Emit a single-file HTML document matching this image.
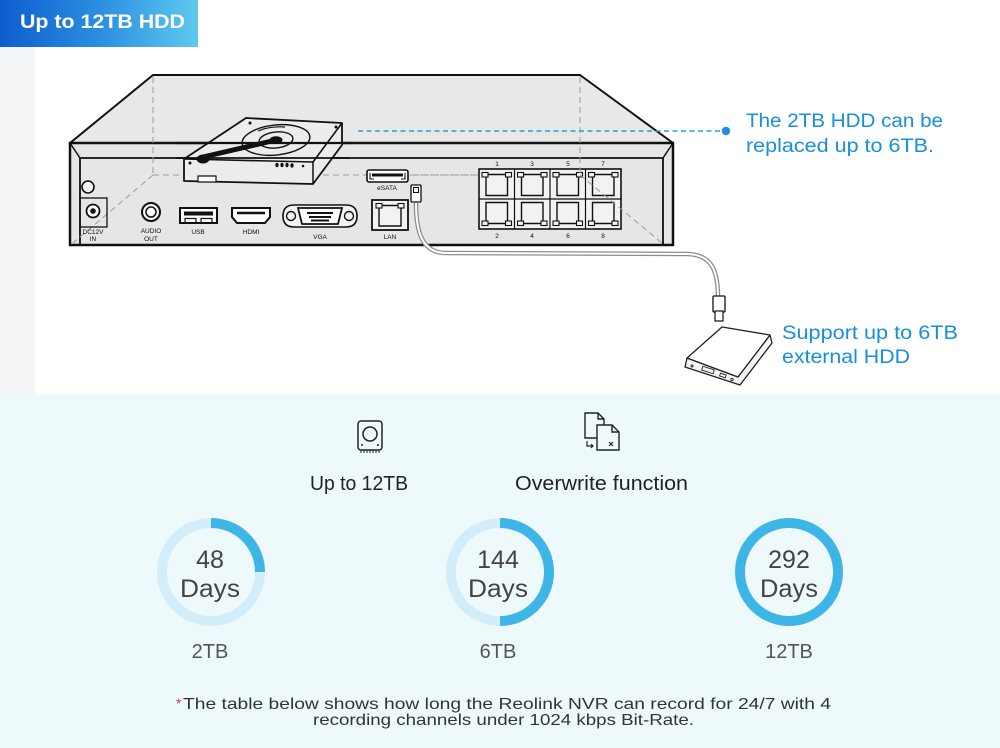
<!DOCTYPE html>
<html><head><meta charset="utf-8"><style>
html,body{margin:0;padding:0;background:#fff;}
svg{display:block;}
text{font-family:"Liberation Sans",sans-serif;}
</style></head><body>
<svg width="1000" height="748" viewBox="0 0 1000 748" xmlns="http://www.w3.org/2000/svg">
<defs>
<linearGradient id="hg" x1="0" x2="1" y1="0" y2="0">
<stop offset="0" stop-color="#0e5dce"/>
<stop offset="0.5" stop-color="#2b8ee0"/>
<stop offset="1" stop-color="#5ec9ef"/>
</linearGradient>
<g id="pt">
<rect x="3" y="3.5" width="6" height="4.5" fill="#f2f2f2" stroke="#111" stroke-width="1.1"/>
<rect x="26.5" y="3.5" width="6" height="4.5" fill="#f2f2f2" stroke="#111" stroke-width="1.1"/>
<path d="M9 5.5 H26.5 M7 8 V26.5 H28.5 V8" fill="none" stroke="#111" stroke-width="1.4"/>
</g>
</defs>

<rect width="1000" height="748" fill="#fff"/>
<rect x="0" y="47" width="35" height="348" fill="#f3f4f6"/>
<rect x="0" y="394" width="1000" height="354" fill="#eef9fc"/>
<rect x="0" y="0" width="198" height="47" fill="url(#hg)"/>
<text x="20" y="28" font-size="19" font-weight="bold" fill="#fff" textLength="165" lengthAdjust="spacingAndGlyphs">Up to 12TB HDD</text>

<!-- NVR top face -->
<polygon points="153,75 580,75 673,143 70,143" fill="#e8e8e8" stroke="#111" stroke-width="2" stroke-linejoin="round"/>
<!-- front -->
<rect x="70" y="143" width="603" height="102" fill="#e6e6e6" stroke="#111" stroke-width="2.5"/>
<polyline points="80,245 80,158 663,158 663,245" fill="none" stroke="#111" stroke-width="1.8"/>
<line x1="70" y1="143" x2="80" y2="158" stroke="#111" stroke-width="1.5"/>
<line x1="673" y1="143" x2="663" y2="158" stroke="#111" stroke-width="1.5"/>

<!-- hidden dashed edges -->
<g stroke="#9a9a9a" stroke-width="1" stroke-dasharray="6 4" fill="none">
<line x1="153" y1="77" x2="153" y2="175"/>
<line x1="153" y1="175" x2="580" y2="175"/>
<line x1="153" y1="175" x2="73" y2="243"/>
</g>

<!-- Internal HDD -->
<g stroke="#111" stroke-linejoin="round">
<polygon points="246,118 342,123 342,145 313,184 184,181 184,159" fill="#ececec" stroke-width="1.8"/>
<polyline points="184,159 313,162 342,123" fill="none" stroke-width="1.6"/>
<line x1="313" y1="162" x2="313" y2="184" stroke-width="1.5"/>
<ellipse cx="276" cy="140" rx="34" ry="15" fill="none" stroke-width="1.4" transform="rotate(-6 276 140)"/>
<ellipse cx="276" cy="140" rx="17" ry="8" fill="none" stroke-width="1.4" transform="rotate(-6 276 140)"/>
<ellipse cx="276" cy="140" rx="6" ry="3.2" fill="#111"/>
<path d="M258 131 Q270 126 285 127" fill="none" stroke-width="1.2"/>
<line x1="272" y1="141" x2="203" y2="157" stroke-width="5" stroke-linecap="round"/>
<ellipse cx="203" cy="159" rx="6" ry="4" fill="#111"/>
<rect x="198" y="176" width="18" height="6" fill="#fff" stroke-width="1.2"/>
<circle cx="250" cy="123" r="1.5" fill="#111" stroke="none"/>
<circle cx="336" cy="127" r="1.5" fill="#111" stroke="none"/>
<circle cx="190" cy="163" r="1.5" fill="#111" stroke="none"/>
<circle cx="303" cy="166" r="1.3" fill="#111" stroke="none"/>
<g fill="#111" stroke="none">
<ellipse cx="277" cy="165" rx="1.6" ry="2.2"/><ellipse cx="282" cy="165" rx="1.6" ry="2.2"/>
<ellipse cx="287" cy="165" rx="1.6" ry="2.2"/><ellipse cx="292" cy="165.5" rx="1.6" ry="2.2"/>
</g>
</g>
<!-- front top lines across HDD -->
<line x1="176" y1="143" x2="350" y2="143" stroke="#111" stroke-width="2.2"/>
<line x1="176" y1="158" x2="350" y2="158" stroke="#111" stroke-width="1.8"/>

<!-- Ports -->
<g stroke="#111" fill="none">
<circle cx="88" cy="187" r="6" stroke-width="1.6" fill="#f2f2f2"/>
<rect x="80" y="198" width="27" height="29" stroke-width="1.3"/>
<circle cx="93" cy="211" r="6.5" stroke-width="1.8" fill="#fff"/>
<circle cx="93" cy="211" r="2.8" fill="#111" stroke="none"/>
<circle cx="151" cy="212" r="9" stroke-width="2" fill="#f2f2f2"/>
<circle cx="151" cy="212" r="5" stroke-width="1.5" fill="#fff"/>
<rect x="180" y="208" width="37" height="15" stroke-width="2" fill="#fff"/>
<rect x="184" y="211.5" width="29" height="4" fill="#111" stroke="none"/>
<path d="M185 223 V218.5 H196 V223 M201 223 V218.5 H212 V223" stroke-width="1.2"/>
<path d="M232 208 H270 V217 L265 223 H237 L232 217 Z" stroke-width="2" fill="#fff"/>
<path d="M237 213 H265" stroke-width="2.6"/>
<path d="M283 216 Q283 205 294 205 H346 Q357 205 357 216 Q357 227 346 227 H294 Q283 227 283 216 Z" stroke-width="1.6" fill="#f2f2f2"/>
<path d="M298 208 H342 L338 224 H302 Z" stroke-width="1.8" fill="#fff"/>
<circle cx="291" cy="216" r="4.5" stroke-width="1.4"/>
<circle cx="349" cy="216" r="4.5" stroke-width="1.4"/>
<g fill="#111" stroke="none">
<rect x="307" y="212" width="26" height="2"/><rect x="309" y="216" width="22" height="2"/><rect x="311" y="219.5" width="18" height="2"/>
</g>
<rect x="372" y="200" width="36" height="30" stroke-width="1.8" fill="#f2f2f2"/>
<rect x="376" y="203.5" width="6" height="4.5" stroke-width="1.1"/>
<rect x="398" y="203.5" width="6" height="4.5" stroke-width="1.1"/>
<path d="M382 205.5 H398 M379 208 V226 H401 V208" stroke-width="1.4"/>
<rect x="367" y="170" width="41" height="12" rx="2" stroke-width="1.6" fill="#fff"/>
<rect x="372" y="173.5" width="31" height="3" fill="#111" stroke="none"/>
<path d="M370 173 V179 H374 M405 173 V179 H401" stroke-width="1.1"/>
</g>
<g font-size="6.5" fill="#111" text-anchor="middle">
<text x="93" y="234">DC12V</text><text x="93" y="241">IN</text>
<text x="151" y="233">AUDIO</text><text x="151" y="241">OUT</text>
<text x="198" y="234">USB</text>
<text x="251" y="234">HDMI</text>
<text x="320" y="239">VGA</text>
<text x="390" y="239">LAN</text>
<text x="387" y="190">eSATA</text>
</g>

<!-- Ethernet block -->
<rect x="479" y="169" width="142" height="60" fill="#f2f2f2" stroke="#111" stroke-width="1.6"/>
<g stroke="#111" stroke-width="1.2">
<line x1="514.5" y1="169" x2="514.5" y2="229"/><line x1="550" y1="169" x2="550" y2="229"/><line x1="585.5" y1="169" x2="585.5" y2="229"/>
<line x1="479" y1="199" x2="621" y2="199"/>
</g>
<use href="#pt" transform="translate(479,169)"/>
<use href="#pt" transform="translate(514.5,169)"/>
<use href="#pt" transform="translate(550,169)"/>
<use href="#pt" transform="translate(585.5,169)"/>
<use href="#pt" transform="translate(479,229) scale(1,-1)"/>
<use href="#pt" transform="translate(514.5,229) scale(1,-1)"/>
<use href="#pt" transform="translate(550,229) scale(1,-1)"/>
<use href="#pt" transform="translate(585.5,229) scale(1,-1)"/>
<g font-size="6.5" fill="#111" text-anchor="middle">
<text x="497" y="166">1</text><text x="532" y="166">3</text><text x="568" y="166">5</text><text x="603" y="166">7</text>
<text x="497" y="238">2</text><text x="532" y="238">4</text><text x="568" y="238">6</text><text x="603" y="238">8</text>
</g>
<g stroke="#9a9a9a" stroke-width="1" stroke-dasharray="6 4" fill="none">
<line x1="580" y1="77" x2="580" y2="175"/>
<line x1="410" y1="175" x2="479" y2="175"/>
<line x1="580" y1="175" x2="662" y2="243"/>
</g>

<!-- cable -->
<path d="M416 203 C416 232 422 253 446 253 L688 254 C710 255 718 268 718 297" fill="none" stroke="#8c8c8c" stroke-width="4.5"/>
<path d="M416 203 C416 232 422 253 446 253 L688 254 C710 255 718 268 718 297" fill="none" stroke="#fff" stroke-width="2"/>
<rect x="411" y="185" width="10" height="17" rx="1" fill="#fff" stroke="#111" stroke-width="1.3"/>
<rect x="413.5" y="187.5" width="5" height="5" fill="none" stroke="#111" stroke-width="1"/>
<rect x="713" y="296" width="12" height="16" rx="1" fill="#fff" stroke="#111" stroke-width="1.3"/>
<rect x="715" y="311" width="8" height="10" fill="#fff" stroke="#111" stroke-width="1.2"/>

<!-- blue dashed callout -->
<line x1="358" y1="131" x2="722" y2="131" stroke="#2a9ed8" stroke-width="1.6" stroke-dasharray="5 3.5"/>
<circle cx="726" cy="131" r="4.2" fill="#1a8fdc"/>

<!-- external HDD -->
<g stroke="#222" stroke-width="1.3" stroke-linejoin="round">
<polygon points="687,358 685,367 740,385 772,343 770,335 738,377" fill="#f4f4f4"/>
<polygon points="722,327 770,335 738,377 687,358" fill="#fff"/>
<g stroke-width="0.9" fill="none">
<circle cx="692" cy="366" r="1"/>
<rect x="702" y="368" width="12" height="4" transform="rotate(18 708 370)"/>
<rect x="720" y="374" width="6" height="3" transform="rotate(18 723 375)"/>
<circle cx="732" cy="379.5" r="1.2"/>
</g>
</g>

<!-- right texts -->
<g font-size="19" fill="#1590dc">
<text x="746" y="127" textLength="197" lengthAdjust="spacingAndGlyphs">The 2TB HDD can be</text>
<text x="746" y="152" textLength="188" lengthAdjust="spacingAndGlyphs">replaced up to 6TB.</text>
<text x="782" y="339" textLength="176" lengthAdjust="spacingAndGlyphs">Support up to 6TB</text>
<text x="782" y="363" textLength="128" lengthAdjust="spacingAndGlyphs">external HDD</text>
</g>

<!-- bottom icons -->
<g stroke="#222" fill="none" stroke-width="1.5">
<rect x="358" y="421" width="24" height="29" rx="3"/>
<circle cx="370" cy="434" r="7"/>
<path d="M361 450 V453 M364 450 V453 M367 450 V453 M370 450 V453 M373 450 V453 M376 450 V453 M379 450 V453" stroke-width="1"/>
<path d="M585 413 H598 L604 419 V438 H585 Z M598 413 V419 H604" stroke-width="1.4"/>
<path d="M597 425 H612 L619 432 V450 H597 Z M612 425 V432 H619" stroke-width="1.4" fill="#eef9fc"/>
<path d="M587 441 V446 H593 M591 444 L593 446 L591 448" stroke-width="1.2"/>
<path d="M609 442 L613 446 M613 442 L609 446" stroke-width="1.2"/>
</g>
<circle cx="362" cy="445" r="1" fill="#222"/><circle cx="378" cy="445" r="1" fill="#222"/>

<g font-size="20" fill="#222">
<text x="310" y="490" textLength="98" lengthAdjust="spacingAndGlyphs">Up to 12TB</text>
<text x="515" y="490" textLength="173" lengthAdjust="spacingAndGlyphs">Overwrite function</text>
</g>

<!-- circles -->
<g fill="none" stroke-width="10">
<circle cx="211" cy="572" r="49" stroke="#d3eefa"/>
<path d="M211 523 A49 49 0 0 1 260 572" stroke="#3db5e6"/>
<circle cx="500" cy="572" r="49" stroke="#d3eefa"/>
<path d="M500 523 A49 49 0 0 1 500 621" stroke="#3db5e6"/>
<circle cx="789" cy="572" r="49" stroke="#3db5e6"/>
</g>
<g font-size="25" fill="#444" text-anchor="middle">
<text x="210" y="568">48</text><text x="210" y="597" textLength="60" lengthAdjust="spacingAndGlyphs">Days</text>
<text x="498" y="568">144</text><text x="498" y="597" textLength="60" lengthAdjust="spacingAndGlyphs">Days</text>
<text x="789" y="568">292</text><text x="789" y="597" textLength="58" lengthAdjust="spacingAndGlyphs">Days</text>
</g>
<g font-size="20" fill="#555" text-anchor="middle">
<text x="210" y="658">2TB</text>
<text x="498" y="658">6TB</text>
<text x="789" y="658">12TB</text>
</g>

<!-- footnote -->
<text x="176" y="708" font-size="14" fill="#e53935">*</text>
<text x="183" y="709" font-size="16" fill="#333" textLength="648" lengthAdjust="spacingAndGlyphs">The table below shows how long the Reolink NVR can record for 24/7 with 4</text>
<text x="313" y="725" font-size="16" fill="#333" textLength="381" lengthAdjust="spacingAndGlyphs">recording channels under 1024 kbps Bit-Rate.</text>
</svg>
</body></html>
